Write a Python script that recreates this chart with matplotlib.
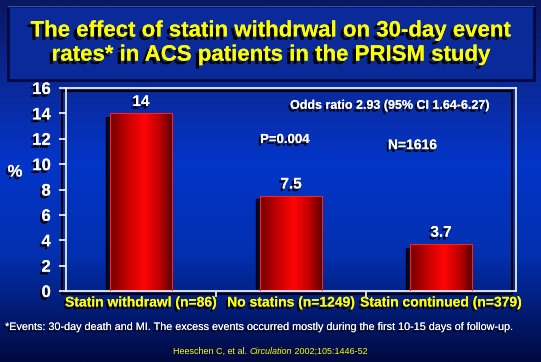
import numpy as np
import matplotlib
matplotlib.use('Agg')
import matplotlib.pyplot as plt
import matplotlib.patheffects as pe
from matplotlib.colors import LinearSegmentedColormap
from matplotlib.patches import Rectangle

W, H = 541, 362
DPI = 100

categories = ['Statin withdrawl (n=86)', 'No statins (n=1249)', 'Statin continued (n=379)']
values = [14, 7.5, 3.7]
value_labels = ['14', '7.5', '3.7']
yticks = [0, 2, 4, 6, 8, 10, 12, 14, 16]

title = 'The effect of statin withdrwal on 30-day event\nrates* in ACS patients in the PRISM study'
footnote = ('*Events: 30-day death and MI. The excess events occurred mostly '
            'during the first 10-15 days of follow-up.')

plt.rcParams['font.family'] = ['Liberation Sans', 'DejaVu Sans']

fig = plt.figure(figsize=(W / DPI, H / DPI), dpi=DPI)

# background gradient
bg = fig.add_axes([0, 0, 1, 1])
bg_cmap = LinearSegmentedColormap.from_list('bg', [
    (0.0, '#0a1760'), (0.25, '#0a2a9e'), (0.45, '#0335c8'),
    (0.7, '#0230b0'), (1.0, '#000a40')])
bg.imshow(np.linspace(0, 1, 256).reshape(-1, 1), cmap=bg_cmap, aspect='auto',
          extent=(0, 1, 0, 1))
bg.set_xlim(0, 1)
bg.set_ylim(0, 1)
bg.axis('off')

def px(x, y):
    return x / W, 1 - y / H

# title box
bg.add_patch(Rectangle(px(8, 80), 526 / W, 74 / H, facecolor='#0a2a9a',
                       edgecolor='#000a40', lw=2))
bg.plot([8 / W, 534 / W], [1 - 6 / H, 1 - 6 / H], color='#3050c0', lw=1)

shadow = lambda o: [pe.withSimplePatchShadow(offset=o, shadow_rgbFace='black', alpha=1), pe.Normal()]

fig.text(0.5, 1 - 43 / H, title, ha='center', va='center', color='#ffff00',
         fontsize=16, fontweight='bold', linespacing=1.2, path_effects=shadow((-2.5, -2.5)))

# plot axes
left, right, top, bottom = 66, 516, 88, 291
ax = fig.add_axes([left / W, 1 - bottom / H, (right - left) / W, (bottom - top) / H])
ax.patch.set_visible(False)

# black shadow frame
bg.add_patch(Rectangle(px(left - 4, bottom + 3), (right - left) / W, (bottom - top) / H,
                       fill=False, edgecolor='black', lw=1.5))

x = np.arange(len(values))
bw = 0.41
bar_cmap = LinearSegmentedColormap.from_list('bar', [
    (0.0, '#700000'), (0.25, '#c00000'), (0.55, '#ff0505'), (0.8, '#c00000'), (1.0, '#600000')])
bars = ax.bar(x, values, width=bw, color='none', edgecolor='#ff2020', lw=0.8, zorder=3)
for xi, v, b in zip(x, values, bars):
    ax.add_patch(Rectangle((xi - bw / 2 - 0.027, 0), bw, v - 0.28, facecolor='#000a30',
                           edgecolor='black', zorder=1))
    im = ax.imshow(np.linspace(0, 1, 128).reshape(1, -1), cmap=bar_cmap, aspect='auto',
                   extent=(xi - bw / 2, xi + bw / 2, 0, v), zorder=2)
    im.set_clip_path(b)

for xi, v, lab in zip(x, values, value_labels):
    ax.text(xi, v + 0.35, lab, ha='center', va='bottom', color='white', fontsize=11,
            fontweight='bold', path_effects=shadow((-1.5, -2)))

ax.text(1.66, 14.6, 'Odds ratio 2.93 (95% CI 1.64-6.27)', ha='center', va='center',
        color='white', fontsize=9, fontweight='bold', path_effects=shadow((-1.5, -2)))
ax.text(0.96, 11.9, 'P=0.004', ha='center', va='center', color='white', fontsize=9.5,
        fontweight='bold', path_effects=shadow((-1.5, -2)))
ax.text(1.81, 11.5, 'N=1616', ha='center', va='center', color='white', fontsize=10,
        fontweight='bold', path_effects=shadow((-1.5, -2)))

ax.set_xlim(-0.5, 2.5)
ax.set_ylim(0, 16)
ax.set_yticks(yticks)
ax.set_yticklabels([str(t) for t in yticks], fontsize=12, fontweight='bold', color='white')
for t in ax.get_yticklabels():
    t.set_path_effects(shadow((-1.5, -2)))
ax.set_xticks([0.5, 1.5])
ax.set_xticklabels([])
ax.tick_params(axis='y', colors='white', length=5, width=1.2, pad=6)
ax.tick_params(axis='x', colors='white', length=4, width=1.2)
for s in ax.spines.values():
    s.set_color('white')
    s.set_linewidth(1.2)

for xi, c in zip(x, categories):
    ax.text(xi, -0.9, c, ha='center', va='center', color='#ffff00', fontsize=10,
            fontweight='bold', path_effects=shadow((-1.5, -2)))

fig.text(15 / W, 1 - 172 / H, '%', ha='center', va='center', color='white',
         fontsize=12, fontweight='bold', path_effects=shadow((-1.5, -2)))

fig.text(262 / W, 1 - 327 / H, footnote, ha='center', va='center', color='white',
         fontsize=7.8, family=['Liberation Sans Narrow', 'Liberation Sans'],
         path_effects=shadow((-1.5, -1.5)))

# citation with italic journal name
fig.canvas.draw()
r = fig.canvas.get_renderer()
parts = [('Heeschen C, et al. ', 'normal'), ('Circulation', 'italic'), (' 2002;105:1446-52', 'normal')]
cy = 1 - 351 / H
widths = []
texts = []
for s, st in parts:
    t = fig.text(0, cy, s, ha='left', va='center', color='#ffff00', fontsize=6.5, style=st)
    texts.append(t)
    widths.append(t.get_window_extent(r).width)
xpos = (W - sum(widths)) / 2
for t, w in zip(texts, widths):
    t.set_x(xpos / W)
    xpos += w

fig.savefig('out.png', dpi=DPI)
